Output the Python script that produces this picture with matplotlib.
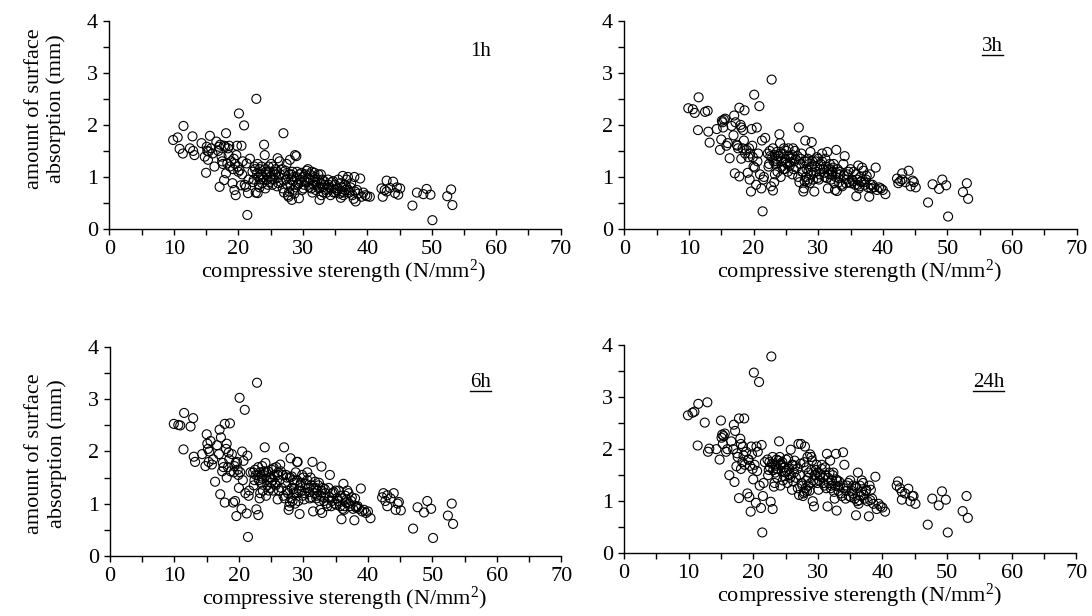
import matplotlib
matplotlib.use("Agg")
import matplotlib.pyplot as plt
from matplotlib.lines import Line2D
from matplotlib.ticker import MultipleLocator

plt.rcParams["font.family"] = ["Liberation Serif", "DejaVu Serif"]
plt.rcParams["mathtext.fontset"] = "custom"
plt.rcParams["mathtext.rm"] = "Liberation Serif"
plt.rcParams["mathtext.it"] = "Liberation Serif:italic"

# compressive strength of each specimen (N/mm2), shared by all four panels
strength = [
    9.9, 10.6, 10.9, 11.4, 11.5, 12.5, 12.9, 13.0, 13.2, 14.3, 14.8,
    15.0, 15.1, 15.2, 15.3, 15.4, 15.6, 15.8, 16.0, 16.3, 16.6, 17.0, 17.1,
    17.2, 17.4, 17.6, 17.8, 17.8, 18.0, 18.1, 18.1, 18.3, 18.4, 18.6, 18.7,
    18.9, 19.1, 19.2, 19.4, 19.5, 19.6, 19.7, 19.8, 20.0, 20.1, 20.2, 20.4,
    20.5, 20.7, 20.9, 21.0, 21.2, 21.3, 21.4, 21.5, 21.6, 21.8,
    22.2, 22.4, 22.5, 22.8, 22.7, 22.9, 23.0, 23.1, 23.2, 23.3, 23.4, 23.5,
    23.6, 23.7, 23.8, 24.0, 24.1, 24.2, 24.3, 24.4, 24.5, 24.7, 24.8, 25.0,
    25.1, 25.3, 25.5, 25.6, 25.8, 26.0, 26.1, 26.3, 26.4, 26.6, 26.8, 27.0,
    27.1, 27.2, 27.4, 27.5, 27.7, 27.8, 27.9, 28.0, 28.1, 28.2, 28.3, 28.4,
    28.5, 28.6, 28.8, 28.9, 29.0, 29.1, 29.2, 29.4, 29.5, 29.7, 29.9, 30.0,
    30.2, 30.4, 30.6, 30.8, 31.0, 31.2, 31.4, 31.5, 31.7, 31.9, 32.0, 32.2,
    32.4, 32.6, 32.7, 32.8, 32.9, 33.0, 33.2, 33.4, 33.6, 33.9, 34.1, 34.3,
    34.5, 34.8, 35.0, 35.2,
    35.5, 35.7, 35.9, 36.0, 36.1, 36.2, 36.3, 36.5, 36.6, 36.8, 37.0, 37.2,
    37.4, 37.7, 37.9, 38.0, 38.2, 38.4, 38.6, 38.9, 39.1, 39.4, 39.7, 40.0,
    40.4,
    42.2, 42.4, 42.7, 43.0, 43.0, 43.5, 44.0, 44.3, 44.6, 44.8, 45.1,
    47.0, 47.7, 48.7, 49.2, 49.8, 50.1, 52.4, 53.0, 53.2,
    # second batch (dense middle of the cloud)
    22.3, 22.6, 23.0, 23.3, 23.6, 23.9, 24.2, 24.6, 24.9, 25.2, 25.4, 25.7,
    26.0, 26.2, 26.5, 26.9, 27.3, 27.6, 27.9, 28.2, 28.5, 28.7, 29.0, 29.3,
    29.6, 29.8, 30.1, 30.3, 30.6, 30.9, 31.1, 31.3, 31.6, 31.8, 32.1, 32.3,
    32.5, 32.8, 33.1, 33.3, 33.7, 34.0, 34.4, 34.7, 35.1, 35.4, 35.8, 36.4,
    36.7, 37.1, 37.5, 38.1, 16.9, 17.5, 18.5, 19.3, 19.9, 20.6,
]

# amount of surface absorption (mm) after 1h, 3h, 6h, 24h
absorb_1h = [
    1.71, 1.76, 1.54, 1.45, 1.98, 1.55, 1.78, 1.50, 1.42, 1.65, 1.39,
    1.08, 1.58, 1.50, 1.33, 1.49, 1.79, 1.55, 1.45, 1.20, 1.68, 1.58, 0.81,
    1.62, 1.39, 1.25, 0.94, 1.60, 1.58, 1.07, 1.84, 1.26, 1.55, 1.60, 1.20,
    1.30, 0.88, 1.15, 0.75, 1.25, 0.65, 1.42, 1.60, 1.10, 2.22, 1.13, 0.84,
    1.60, 1.30, 1.99, 0.85, 0.81, 1.26, 0.27, 0.69, 0.95, 1.35,
    1.10, 0.95, 1.20, 2.50, 0.70, 1.07, 0.69, 1.00, 0.85, 1.15, 0.95, 1.05,
    1.20, 0.88, 1.00, 1.62, 1.42, 0.78, 1.10, 0.95, 1.05, 1.20, 0.90, 1.00,
    1.25, 0.85, 1.10, 0.95, 1.15, 0.82, 1.36, 1.00, 1.30, 0.90, 1.15, 1.84,
    0.70, 1.05, 0.95, 1.25, 0.65, 0.62, 1.05, 1.33, 0.85, 0.95, 0.56, 1.10,
    0.75, 1.00, 1.42, 0.80, 1.40, 1.10, 0.85, 0.59, 1.05, 0.90, 0.75, 1.00,
    0.85, 1.05, 0.90, 1.15, 0.80, 0.95, 1.10, 0.70, 0.85, 1.00, 0.75, 0.90,
    1.05, 0.56, 0.80, 1.05, 0.65, 0.95, 0.70, 0.85, 0.75, 0.95, 0.80, 0.65,
    0.90, 0.70, 0.85, 0.75,
    0.95, 0.68, 0.60, 0.80, 0.72, 1.02, 0.65, 0.85, 0.75, 0.95, 1.00, 0.70,
    0.80, 0.65, 0.58, 1.00, 0.53, 0.75, 0.68, 0.97, 0.62, 0.70, 0.65, 0.63,
    0.62,
    0.78, 0.62, 0.75, 0.93, 0.72, 0.79, 0.91, 0.69, 0.80, 0.66, 0.78,
    0.45, 0.70, 0.67, 0.77, 0.66, 0.17, 0.63, 0.76, 0.46,
    0.90, 1.15, 1.25, 0.80, 1.05, 0.95, 1.15, 0.85, 1.10, 0.95, 1.20, 1.05,
    1.10, 0.88, 1.05, 0.78, 1.12, 0.85, 0.72, 1.05, 0.92, 0.68, 1.00, 0.88,
    0.95, 1.08, 0.78, 0.92, 1.12, 0.98, 1.05, 0.78, 0.92, 1.08, 0.85, 0.95,
    0.78, 0.88, 0.80, 0.92, 0.70, 0.85, 0.78, 0.92, 0.70, 0.78, 0.88, 0.70,
    0.82, 0.75, 0.88, 0.72, 1.50, 1.30, 1.42, 1.35, 1.20, 1.05,
]

absorb_3h = [
    2.32, 2.30, 2.23, 1.90, 2.53, 2.25, 2.27, 1.87, 1.66, 1.92, 1.52,
    1.72, 2.08, 2.05, 1.95, 2.10, 2.12, 1.60, 1.65, 1.36, 1.98, 2.18, 1.07,
    2.05, 1.62, 1.55, 1.01, 2.33, 2.00, 1.35, 1.95, 1.55, 1.90, 2.28, 1.45,
    1.52, 1.08, 1.38, 0.95, 1.45, 0.72, 1.92, 1.60, 1.20, 2.58, 1.18, 0.85,
    1.95, 1.45, 2.36, 1.05, 0.78, 1.70, 0.34, 0.95, 1.00, 1.75,
    1.45, 1.25, 1.50, 2.87, 0.82, 1.38, 0.74, 1.30, 0.90, 1.42, 1.25, 1.35,
    1.48, 1.10, 1.40, 1.82, 1.65, 1.00, 1.30, 1.20, 1.45, 1.55, 1.15, 1.28,
    1.50, 1.10, 1.40, 1.22, 1.35, 1.05, 1.55, 1.30, 1.50, 1.18, 1.40, 1.95,
    0.90, 1.25, 1.45, 1.10, 0.72, 0.78, 1.30, 1.70, 1.00, 1.15, 0.90, 1.35,
    0.95, 1.25, 1.48, 1.05, 1.67, 1.30, 0.95, 0.72, 1.20, 1.10, 0.98, 1.35,
    1.05, 1.25, 1.45, 1.15, 1.00, 1.20, 1.48, 0.78, 1.05, 1.15, 0.95, 1.10,
    1.25, 0.75, 1.00, 1.52, 0.73, 1.15, 0.90, 1.05, 0.85, 1.25, 1.40, 0.88,
    1.05, 0.90, 1.15, 0.95,
    1.10, 0.85, 0.63, 0.95, 0.85, 1.22, 0.78, 1.00, 0.90, 1.18, 1.12, 0.85,
    0.95, 0.80, 0.62, 1.05, 0.78, 0.85, 0.80, 1.18, 0.75, 0.80, 0.78, 0.75,
    0.67,
    0.97, 0.88, 0.92, 1.07, 0.95, 0.90, 1.12, 0.82, 0.93, 0.90, 0.80,
    0.51, 0.86, 0.77, 0.95, 0.84, 0.24, 0.71, 0.88, 0.58,
    1.20, 1.40, 1.55, 1.05, 1.30, 1.40, 1.45, 1.15, 1.35, 1.25, 1.55, 1.28,
    1.42, 1.15, 1.35, 1.00, 1.35, 1.10, 0.92, 1.30, 1.12, 0.88, 1.20, 1.08,
    1.30, 1.38, 0.95, 1.15, 1.30, 1.08, 1.35, 0.98, 1.15, 1.25, 1.05, 1.18,
    0.88, 1.08, 0.98, 1.10, 0.82, 1.02, 0.95, 1.10, 0.88, 0.92, 1.05, 0.82,
    0.92, 0.90, 1.02, 0.85, 1.80, 1.60, 1.70, 1.55, 1.38, 1.30,
]

absorb_6h = [
    2.53, 2.51, 2.50, 2.04, 2.74, 2.48, 2.64, 1.90, 1.80, 1.95, 1.72,
    2.33, 2.15, 2.05, 1.80, 2.00, 2.20, 1.75, 1.85, 1.42, 2.12, 2.42, 1.18,
    2.27, 1.62, 1.70, 1.02, 2.53, 2.05, 1.50, 2.15, 1.70, 1.98, 2.54, 1.62,
    1.95, 1.02, 1.60, 1.05, 1.78, 0.76, 1.80, 1.65, 1.30, 3.03, 1.60, 0.90,
    2.00, 1.82, 2.80, 1.20, 0.81, 1.92, 0.36, 1.15, 1.25, 1.60,
    1.60, 1.45, 1.65, 3.32, 0.89, 1.55, 0.78, 1.45, 1.10, 1.60, 1.40, 1.52,
    1.72, 1.25, 1.55, 2.08, 1.78, 1.15, 1.45, 1.35, 1.62, 1.50, 1.30, 1.40,
    1.65, 1.25, 1.55, 1.38, 1.70, 1.08, 1.60, 1.45, 1.75, 1.30, 1.55, 2.08,
    1.10, 1.40, 1.50, 1.25, 0.88, 0.95, 1.50, 1.87, 1.10, 1.30, 1.05, 1.45,
    1.20, 1.40, 1.60, 1.20, 1.80, 1.80, 1.05, 0.80, 1.35, 1.25, 1.15, 1.50,
    1.20, 1.38, 1.60, 1.30, 1.10, 1.35, 1.80, 0.85, 1.20, 1.30, 1.10, 1.25,
    1.40, 0.88, 1.15, 1.71, 0.82, 1.30, 1.05, 1.20, 1.00, 1.30, 1.55, 0.95,
    1.20, 1.00, 1.25, 1.10,
    1.25, 0.95, 0.70, 1.10, 0.90, 1.38, 0.88, 1.15, 1.02, 1.25, 1.20, 0.95,
    1.05, 0.90, 0.68, 1.10, 0.92, 0.95, 0.90, 1.29, 0.85, 0.88, 0.82, 0.85,
    0.72,
    1.12, 1.20, 1.05, 1.16, 0.95, 1.10, 1.20, 0.88, 1.00, 1.03, 0.87,
    0.52, 0.93, 0.83, 1.05, 0.90, 0.34, 0.77, 1.00, 0.61,
    1.35, 1.55, 1.70, 1.20, 1.48, 1.62, 1.60, 1.25, 1.50, 1.45, 1.68, 1.35,
    1.55, 1.25, 1.62, 1.15, 1.55, 1.20, 1.02, 1.52, 1.28, 1.00, 1.45, 1.25,
    1.40, 1.55, 1.08, 1.30, 1.45, 1.22, 1.50, 1.12, 1.30, 1.42, 1.15, 1.35,
    1.05, 1.25, 1.12, 1.28, 0.95, 1.12, 1.05, 1.22, 0.98, 1.05, 1.15, 0.95,
    1.08, 1.00, 1.12, 0.95, 1.95, 1.78, 1.85, 1.72, 1.55, 1.45,
]

absorb_24h = [
    2.65, 2.70, 2.72, 2.07, 2.87, 2.51, 2.90, 1.95, 2.01, 2.00, 1.80,
    2.55, 2.22, 2.28, 2.10, 2.25, 2.30, 1.95, 2.00, 1.50, 2.15, 2.47, 1.37,
    2.35, 1.67, 1.85, 1.06, 2.59, 2.20, 1.62, 2.10, 1.75, 2.05, 2.59, 1.70,
    1.95, 1.15, 1.80, 1.08, 1.68, 0.80, 2.05, 1.90, 1.42, 3.47, 1.70, 0.97,
    2.05, 1.95, 3.29, 1.30, 0.87, 2.08, 0.40, 1.10, 1.35, 1.75,
    1.80, 1.60, 1.75, 3.78, 0.99, 1.72, 0.85, 1.60, 1.28, 1.70, 1.55, 1.68,
    1.80, 1.45, 1.62, 2.15, 1.85, 1.30, 1.70, 1.58, 1.75, 1.65, 1.48, 1.55,
    1.80, 1.35, 1.62, 1.50, 1.99, 1.22, 1.70, 1.55, 1.78, 1.45, 1.62, 2.10,
    1.12, 1.50, 2.10, 1.35, 1.10, 1.15, 1.75, 2.05, 1.25, 1.40, 1.20, 1.85,
    1.30, 1.55, 1.90, 1.35, 1.85, 1.78, 1.00, 0.90, 1.50, 1.60, 1.35, 1.55,
    1.40, 1.52, 1.70, 1.45, 1.30, 1.50, 1.91, 0.90, 1.35, 1.78, 1.25, 1.40,
    1.55, 1.05, 1.30, 1.91, 0.82, 1.40, 1.20, 1.30, 1.15, 1.94, 1.70, 1.05,
    1.30, 1.10, 1.40, 1.20,
    1.30, 1.05, 0.73, 1.25, 1.00, 1.55, 0.95, 1.30, 1.10, 1.40, 1.35, 1.05,
    1.20, 1.00, 0.71, 1.30, 1.22, 1.05, 0.95, 1.47, 0.85, 0.95, 0.90, 0.88,
    0.80,
    1.30, 1.38, 1.25, 1.18, 1.03, 1.15, 1.24, 1.00, 1.10, 1.10, 0.95,
    0.55, 1.05, 0.92, 1.19, 1.03, 0.40, 0.81, 1.10, 0.68,
    1.50, 1.65, 1.85, 1.35, 1.62, 1.78, 1.72, 1.40, 1.65, 1.58, 1.82, 1.45,
    1.70, 1.38, 1.68, 1.25, 1.72, 1.30, 1.18, 1.65, 1.45, 1.20, 1.60, 1.40,
    1.50, 1.70, 1.22, 1.48, 1.62, 1.35, 1.65, 1.25, 1.45, 1.55, 1.30, 1.50,
    1.18, 1.42, 1.28, 1.38, 1.10, 1.25, 1.20, 1.35, 1.08, 1.15, 1.28, 1.02,
    1.18, 1.12, 1.22, 1.02, 2.00, 1.92, 1.88, 1.80, 1.62, 1.58,
]

# label, data, axes rect, label position (data coords), underlined, ylabel centre
panels = [
    ("1h", absorb_1h, [0.1001, 0.6282, 0.4134, 0.3381], (57.6, 3.41), False, 0.58),
    ("3h", absorb_3h, [0.5717, 0.6282, 0.4143, 0.3381], (56.9, 3.50), True, None),
    ("6h", absorb_6h, [0.1007, 0.0979, 0.4134, 0.3383], (57.5, 3.32), True, 0.49),
    ("24h", absorb_24h, [0.5714, 0.1018, 0.4143, 0.3381], (56.4, 3.28), True, None),
]

fig = plt.figure(figsize=(10.92, 6.16), dpi=100)

labels = []
for label, ys, rect, lpos, under, ylab_y in panels:
    ax = fig.add_axes(rect)
    ax.scatter(strength, ys, s=42, facecolors="none", edgecolors="black",
               linewidths=0.8, clip_on=False)
    ax.set_xlim(0, 70)
    ax.set_ylim(0, 4)
    ax.spines["top"].set_visible(False)
    ax.spines["right"].set_visible(False)
    ax.spines["left"].set_linewidth(1.0)
    ax.spines["bottom"].set_linewidth(1.0)
    ax.xaxis.set_major_locator(MultipleLocator(10))
    ax.xaxis.set_minor_locator(MultipleLocator(5))
    ax.yaxis.set_major_locator(MultipleLocator(1))
    ax.yaxis.set_minor_locator(MultipleLocator(0.5))
    ax.tick_params(which="both", direction="out", length=4, width=1.0,
                   labelsize=16, pad=4)
    ax.set_xlabel(r"compressive sterength (N/mm$^{2}$)", fontsize=16, labelpad=-1)
    ax.xaxis.label.set_x(0.52)
    if ylab_y is not None:
        ax.set_ylabel("amount of surface\nabsorption (mm)", fontsize=16,
                      labelpad=15, linespacing=1.2)
        ax.yaxis.label.set_y(ylab_y)
    t = ax.text(lpos[0], lpos[1], label, fontsize=15, ha="center", va="center")
    if under:
        labels.append(t)

# underline the panel labels
fig.canvas.draw()
renderer = fig.canvas.get_renderer()
inv = fig.transFigure.inverted()
for t in labels:
    bb = t.get_window_extent(renderer)
    (x0, y0), (x1, _) = inv.transform([(bb.x0, bb.y0 + 1.5), (bb.x1, bb.y0)])
    fig.add_artist(Line2D([x0, x1], [y0, y0], transform=fig.transFigure,
                          color="black", linewidth=1.0))

fig.savefig("out.png", dpi=100)
